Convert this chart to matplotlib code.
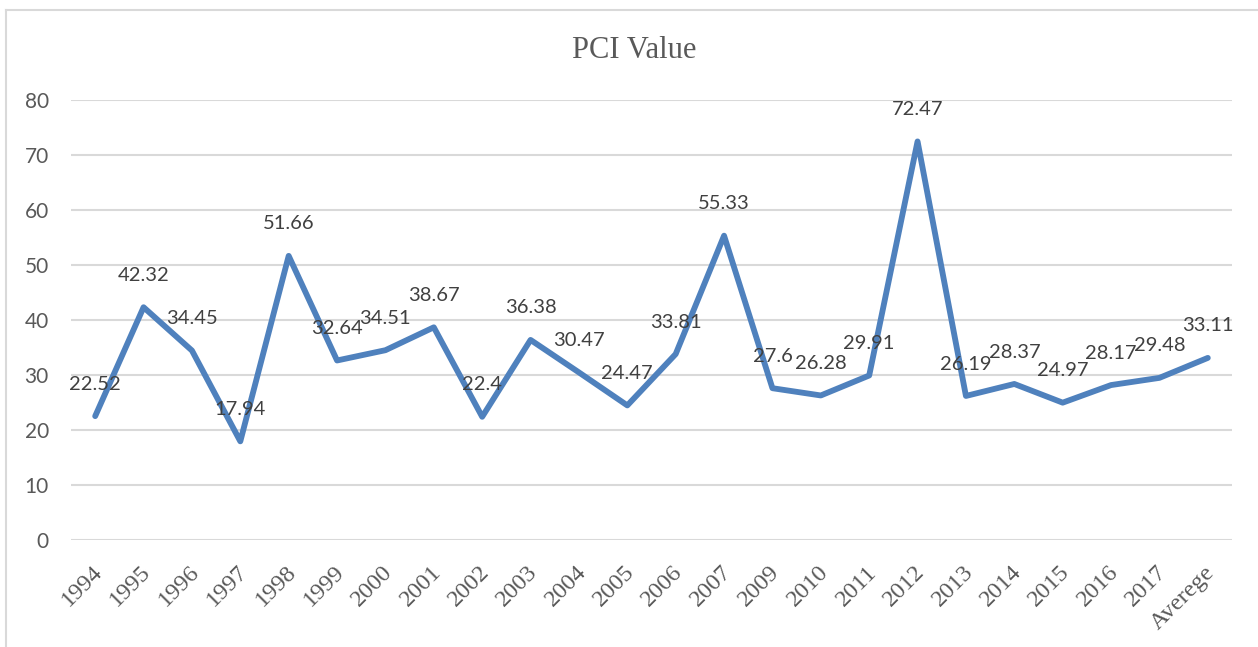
import matplotlib.pyplot as plt
import matplotlib.transforms as mtransforms
from matplotlib.lines import Line2D

# Data
years = ['1994', '1995', '1996', '1997', '1998', '1999', '2000', '2001',
         '2002', '2003', '2004', '2005', '2006', '2007', '2009', '2010',
         '2011', '2012', '2013', '2014', '2015', '2016', '2017', 'Averege']
pci = [22.52, 42.32, 34.45, 17.94, 51.66, 32.64, 34.51, 38.67,
       22.4, 36.38, 30.47, 24.47, 33.81, 55.33, 27.6, 26.28,
       29.91, 72.47, 26.19, 28.37, 24.97, 28.17, 29.48, 33.11]
y_ticks = [0, 10, 20, 30, 40, 50, 60, 70, 80]

W, H = 1258, 647
fig = plt.figure(figsize=(W / 100, H / 100), dpi=100)
ax = fig.add_axes([71 / W, 1 - 540 / H, (1232 - 71) / W, (540 - 100) / H])

x = list(range(len(years)))
ax.plot(x, pci, color='#4F81BD', lw=4.2, solid_joinstyle='round',
        solid_capstyle='round', zorder=3)

for xi, v in zip(x, pci):
    ax.annotate(f'{v:g}', (xi, v), xytext=(0, 23), textcoords='offset points',
                ha='center', va='center', fontsize=14.5, family='Lato',
                color='#404040', zorder=4)

ax.set_xlim(-0.5, len(years) - 0.5)
ax.set_ylim(0, 80)
ax.set_yticks(y_ticks)
ax.yaxis.grid(True, color='#D9D9D9', lw=1.5)
ax.set_axisbelow(True)
for s in ax.spines.values():
    s.set_visible(False)
ax.tick_params(axis='both', length=0)
ax.tick_params(axis='y', pad=16, labelcolor='#595959', labelsize=15)
for lbl in ax.get_yticklabels():
    lbl.set_family('Lato')

ax.set_xticks(x)
ax.set_xticklabels(years, rotation=45, ha='right', va='center',
                   rotation_mode='anchor', family='Liberation Serif',
                   fontsize=17.5, color='#595959')
ax.tick_params(axis='x', pad=21)
shift = mtransforms.ScaledTranslation(4 / 100, 0, fig.dpi_scale_trans)
for lbl in ax.get_xticklabels():
    lbl.set_transform(lbl.get_transform() + shift)

fig.text(634 / W, 1 - 50 / H, 'PCI Value', ha='center', va='center',
         family='Liberation Serif', fontsize=22, color='#595959')

# chart border (only left and top edges fall inside the image)
fig.add_artist(Line2D([6 / W, 6 / W], [0, 1 - 10 / H], color='#D9D9D9',
                      lw=1.5, transform=fig.transFigure))
fig.add_artist(Line2D([6 / W, 1], [1 - 10 / H, 1 - 10 / H], color='#D9D9D9',
                      lw=1.5, transform=fig.transFigure))

fig.savefig('out.png', dpi=100)
